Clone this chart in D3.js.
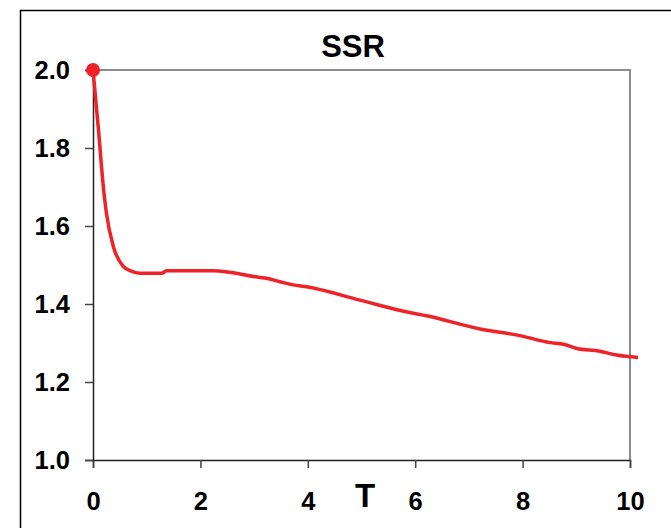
<!DOCTYPE html>
<html>
<head>
<meta charset="utf-8">
<script src="https://cdn.jsdelivr.net/npm/d3@7"></script>
<style>
  body { margin: 0; background: #fff; }
  text { font-family: "Liberation Sans", Arial, sans-serif; font-weight: bold; }
</style>
</head>
<body>
<script>
// values
const tValues = [0, 0.1, 0.2, 0.25, 0.38, 0.56, 0.7, 0.875, 1.28, 1.37, 2.24, 3.11, 3.23, 3.48, 3.73, 3.98, 4.97, 5.9, 6.21, 7.21, 7.95, 8.51, 8.76, 9.01, 9.44, 9.75, 10.15];
const ssrValues = [2.0, 1.85, 1.69, 1.633, 1.547, 1.497, 1.485, 1.479, 1.479, 1.485, 1.485, 1.468, 1.466, 1.457, 1.449, 1.444, 1.41, 1.378, 1.37, 1.336, 1.319, 1.301, 1.297, 1.286, 1.279, 1.269, 1.263];
const xTicks = [0, 2, 4, 6, 8, 10];
const yTicks = [1.0, 1.2, 1.4, 1.6, 1.8, 2.0];

const width = 671, height = 528;
const svg = d3.select("body").append("svg")
              .attr("width", width)
              .attr("height", height);

// outer frame
svg.append("rect")
   .attr("x", 20.5).attr("y", 10.5)
   .attr("width", 700).attr("height", 600)
   .attr("fill", "none").attr("stroke", "#000").attr("stroke-width", 1.5);

const x = d3.scaleLinear().domain([0, 10]).range([93, 630]);
const y = d3.scaleLinear().domain([1, 2]).range([460, 70]);

// top and right border of plot area
svg.append("path")
   .attr("d", `M${x(0)},${y(2)}H${x(10)}V${y(1)}`)
   .attr("fill", "none").attr("stroke", "#8c8c8c").attr("stroke-width", 2);

const xAxis = svg.append("g")
   .attr("transform", `translate(0,${y(1)})`)
   .call(d3.axisBottom(x).tickValues(xTicks).tickSize(8).tickFormat(d3.format("d")));
const yAxis = svg.append("g")
   .attr("transform", `translate(${x(0)},0)`)
   .call(d3.axisLeft(y).tickValues(yTicks).tickSize(8).tickPadding(15).tickFormat(d3.format(".1f")));

[xAxis, yAxis].forEach(a => {
  a.select(".domain").attr("stroke", "#222").attr("stroke-width", 1.5);
  a.selectAll(".tick line").attr("stroke", "#444").attr("stroke-width", 1.5);
  a.selectAll(".tick text").attr("fill", "#000").style("font-size", "25.5px").style("font-weight", "bold");
});
xAxis.selectAll(".tick text").attr("dy", null).attr("y", 50);

// title and axis label
svg.append("text")
   .attr("x", 353).attr("y", 57)
   .attr("text-anchor", "middle")
   .style("font-size", "31px")
   .text("SSR");

svg.append("text")
   .attr("x", 365).attr("y", 507)
   .attr("text-anchor", "middle")
   .style("font-size", "33px")
   .text("T");

// the curve
const data = tValues.map((t, i) => ({ t: t, v: ssrValues[i] }));
const line = d3.line()
               .x(d => x(d.t))
               .y(d => y(d.v))
               .curve(d3.curveMonotoneX);

svg.append("path")
   .datum(data)
   .attr("d", line)
   .attr("fill", "none")
   .attr("stroke", "#ee2227")
   .attr("stroke-width", 3.5);

svg.append("circle")
   .attr("cx", x(data[0].t)).attr("cy", y(data[0].v))
   .attr("r", 7)
   .attr("fill", "#ee2227");
</script>
</body>
</html>
